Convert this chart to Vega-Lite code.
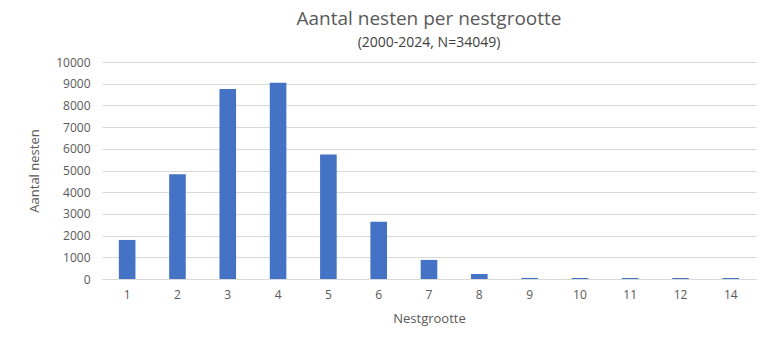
{
  "$schema": "https://vega.github.io/schema/vega-lite/v6.json",
  "width": 654,
  "height": 217,
  "autosize": {"type": "none"},
  "padding": {"left": 102, "top": 62, "right": 24, "bottom": 73},
  "background": "white",
  "title": {
    "text": "Aantal nesten per nestgrootte",
    "subtitle": "(2000-2024,  N=34049)",
    "anchor": "middle",
    "font": "Open Sans",
    "fontSize": 19,
    "fontWeight": "normal",
    "color": "#595959",
    "subtitleFont": "Open Sans",
    "subtitleFontSize": 14,
    "subtitleColor": "#404040",
    "subtitlePadding": 7,
    "offset": 6
  },
  "data": {
    "values": [
      {"nestgrootte": "1", "aantal": 1800},
      {"nestgrootte": "2", "aantal": 4830},
      {"nestgrootte": "3", "aantal": 8760},
      {"nestgrootte": "4", "aantal": 9040},
      {"nestgrootte": "5", "aantal": 5740},
      {"nestgrootte": "6", "aantal": 2640},
      {"nestgrootte": "7", "aantal": 880},
      {"nestgrootte": "8", "aantal": 230},
      {"nestgrootte": "9", "aantal": 50},
      {"nestgrootte": "10", "aantal": 45},
      {"nestgrootte": "11", "aantal": 45},
      {"nestgrootte": "12", "aantal": 45},
      {"nestgrootte": "14", "aantal": 45}
    ]
  },
  "mark": {"type": "bar", "color": "#4472C4"},
  "encoding": {
    "x": {
      "field": "nestgrootte",
      "type": "ordinal",
      "sort": null,
      "scale": {"paddingInner": 0.67, "paddingOuter": 0.335},
      "axis": {
        "title": "Nestgrootte",
        "labelAngle": 0,
        "ticks": false,
        "domainColor": "#d9d9d9",
        "labelPadding": 10,
        "titlePadding": 12,
        "labelFont": "Open Sans",
        "labelFontSize": 12,
        "labelColor": "#595959",
        "titleFont": "Open Sans",
        "titleFontSize": 13,
        "titleFontWeight": "normal",
        "titleColor": "#595959"
      }
    },
    "y": {
      "field": "aantal",
      "type": "quantitative",
      "scale": {"domain": [0, 10000], "nice": false},
      "axis": {
        "title": "Aantal nesten",
        "values": [0, 1000, 2000, 3000, 4000, 5000, 6000, 7000, 8000, 9000, 10000],
        "format": "d",
        "domain": false,
        "ticks": false,
        "gridColor": "#d9d9d9",
        "labelPadding": 12,
        "titlePadding": 14,
        "labelFont": "Open Sans",
        "labelFontSize": 12,
        "labelColor": "#595959",
        "titleFont": "Open Sans",
        "titleFontSize": 13,
        "titleFontWeight": "normal",
        "titleColor": "#595959"
      }
    }
  },
  "config": {"view": {"stroke": null}}
}
